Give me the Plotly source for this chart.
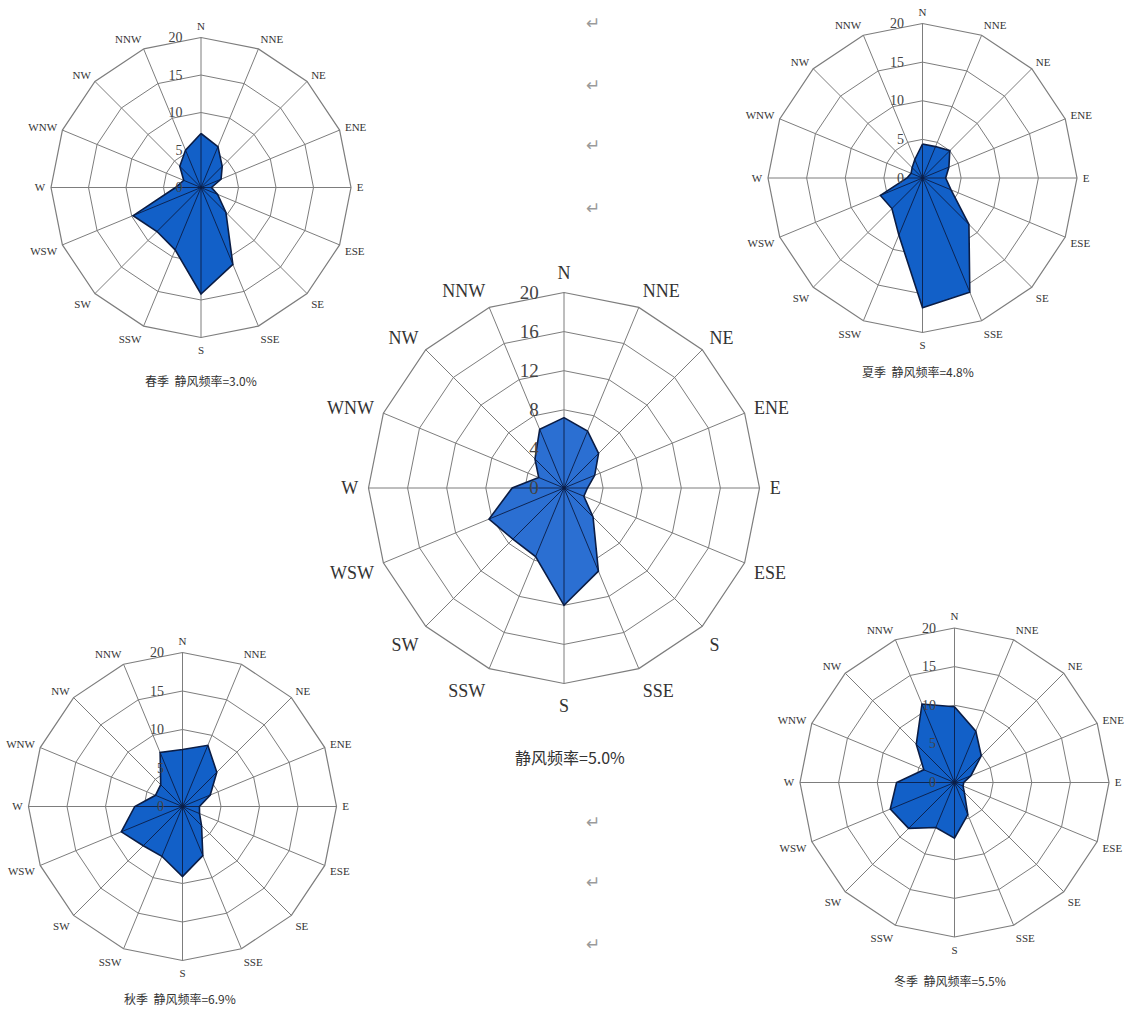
import plotly.graph_objects as go

# 16 compass sectors, clockwise from north
directions = ["N", "NNE", "NE", "ENE", "E", "ESE", "SE", "SSE",
              "S", "SSW", "SW", "WSW", "W", "WNW", "NW", "NNW"]

# wind direction frequency (%) per sector
annual = [7.2, 6.3, 5.0, 3.4, 2.4, 2.2, 4.2, 9.2, 12.0, 7.6, 7.4, 8.3, 5.3, 2.8, 4.2, 6.5]
spring = [7.2, 5.9, 4.0, 2.9, 1.4, 2.4, 4.7, 11.1, 14.2, 9.0, 8.3, 9.8, 3.4, 2.5, 4.0, 5.4]
summer = [4.4, 4.4, 5.0, 3.7, 3.0, 4.0, 8.5, 16.0, 16.8, 8.0, 5.6, 5.9, 2.0, 1.6, 1.9, 2.6]
autumn = [7.4, 8.6, 6.3, 3.9, 2.2, 2.4, 3.5, 6.9, 9.1, 7.0, 7.2, 8.6, 6.2, 3.8, 4.0, 7.6]
winter = [9.8, 7.2, 4.9, 2.3, 1.2, 1.2, 1.8, 4.5, 7.2, 6.3, 8.4, 9.0, 7.5, 4.3, 7.0, 11.0]

# label text drawn at each sector of the annual rose
annual_labels = ["N", "NNE", "NE", "ENE", "E", "ESE", "S", "SSE",
                 "S", "SSW", "SW", "WSW", "W", "WNW", "NW", "NNW"]

captions = {
    "spring": "春季  静风频率=3.0%",
    "summer": "夏季  静风频率=4.8%",
    "annual": "静风频率=5.0%",
    "autumn": "秋季  静风频率=6.9%",
    "winter": "冬季  静风频率=5.5%",
}

small_ticks = [0, 5, 10, 15, 20]
large_ticks = [0, 4, 8, 12, 16, 20]

W, H = 1133, 1012

# layout of each rose: centre (px), outer radius (px), style
roses = [
    dict(key="spring", data=spring, cx=201, cy=187.5, r=150, big=False),
    dict(key="summer", data=summer, cx=922.5, cy=178, r=154.5, big=False),
    dict(key="annual", data=annual, cx=564, cy=488, r=195.5, big=True),
    dict(key="autumn", data=autumn, cx=182.5, cy=806.5, r=154, big=False),
    dict(key="winter", data=winter, cx=954.5, cy=782.5, r=154.5, big=False),
]

caption_pos = {
    "spring": (201, 381, 12),
    "summer": (918, 371, 12),
    "annual": (570, 757, 16),
    "autumn": (180, 998, 12),
    "winter": (950, 980, 12),
}

GRID = "#7d7d7d"
EDGE = "#0b1d45"

fig = go.Figure()
layout_polars = {}

for i, rose in enumerate(roses):
    pid = "polar" if i == 0 else f"polar{i + 1}"
    vals = rose["data"]
    fill = "#2b6fd2" if rose["big"] else "#1260c8"

    # filled rose outline
    fig.add_trace(go.Scatterpolar(
        r=vals + [vals[0]], theta=directions + [directions[0]],
        mode="lines", fill="toself", fillcolor=fill,
        line=dict(color=EDGE, width=1.6), subplot=pid,
        showlegend=False, hoverinfo="skip",
    ))

    # radial edges from the centre to every vertex
    sr, st = [], []
    for d, v in zip(directions, vals):
        sr += [0, v, None]
        st += [d, d, None]
    fig.add_trace(go.Scatterpolar(
        r=sr, theta=st, mode="lines", connectgaps=False,
        line=dict(color=EDGE, width=0.9), subplot=pid,
        showlegend=False, hoverinfo="skip",
    ))

    # centre point
    fig.add_trace(go.Scatterpolar(
        r=[0], theta=["N"], mode="markers",
        marker=dict(color="black", size=8 if rose["big"] else 7),
        subplot=pid, showlegend=False, hoverinfo="skip",
    ))

    cx, cy, rad = rose["cx"], rose["cy"], rose["r"]
    dom = dict(x=[(cx - rad) / W, (cx + rad) / W],
               y=[1 - (cy + rad) / H, 1 - (cy - rad) / H])

    labels = annual_labels if rose["big"] else directions
    layout_polars[pid] = dict(
        domain=dom,
        bgcolor="white",
        gridshape="linear",
        radialaxis=dict(
            range=[0, 20], tickmode="array",
            tickvals=large_ticks if rose["big"] else small_ticks,
            angle=90, side="counterclockwise", tickangle=90,
            ticks="outside", ticklen=18 if rose["big"] else 13,
            tickcolor="rgba(0,0,0,0)",
            showline=False, gridcolor=GRID, gridwidth=1.2,
            tickfont=dict(family="Liberation Serif",
                          size=19 if rose["big"] else 14, color="#444"),
        ),
        angularaxis=dict(
            type="category", categoryarray=directions,
            tickmode="array", tickvals=directions, ticktext=labels,
            rotation=90, direction="clockwise",
            showline=True, linecolor=GRID, linewidth=1.2,
            gridcolor=GRID, gridwidth=1.2,
            ticks="outside", ticklen=6 if rose["big"] else 3,
            tickcolor="rgba(0,0,0,0)",
            tickfont=dict(family="Liberation Serif",
                          size=18 if rose["big"] else 11, color="#333"),
        ),
    )

annotations = []
for key, (x, y, s) in caption_pos.items():
    annotations.append(dict(
        x=x / W, y=1 - y / H, xref="paper", yref="paper",
        text=captions[key], showarrow=False,
        font=dict(family="Noto Sans CJK SC", size=s, color="#333"),
        xanchor="center", yanchor="middle",
    ))

# paragraph marks in the column between the roses
for y in [23, 85, 145, 208, 822, 882, 944]:
    annotations.append(dict(
        x=593 / W, y=1 - y / H, xref="paper", yref="paper",
        text="↵", showarrow=False,
        font=dict(family="DejaVu Sans", size=17, color="#9a9a9a"),
        xanchor="center", yanchor="middle",
    ))

fig.update_layout(
    width=W, height=H,
    margin=dict(l=0, r=0, t=0, b=0),
    paper_bgcolor="white",
    annotations=annotations,
    **layout_polars,
)

fig.write_html("out.html")
